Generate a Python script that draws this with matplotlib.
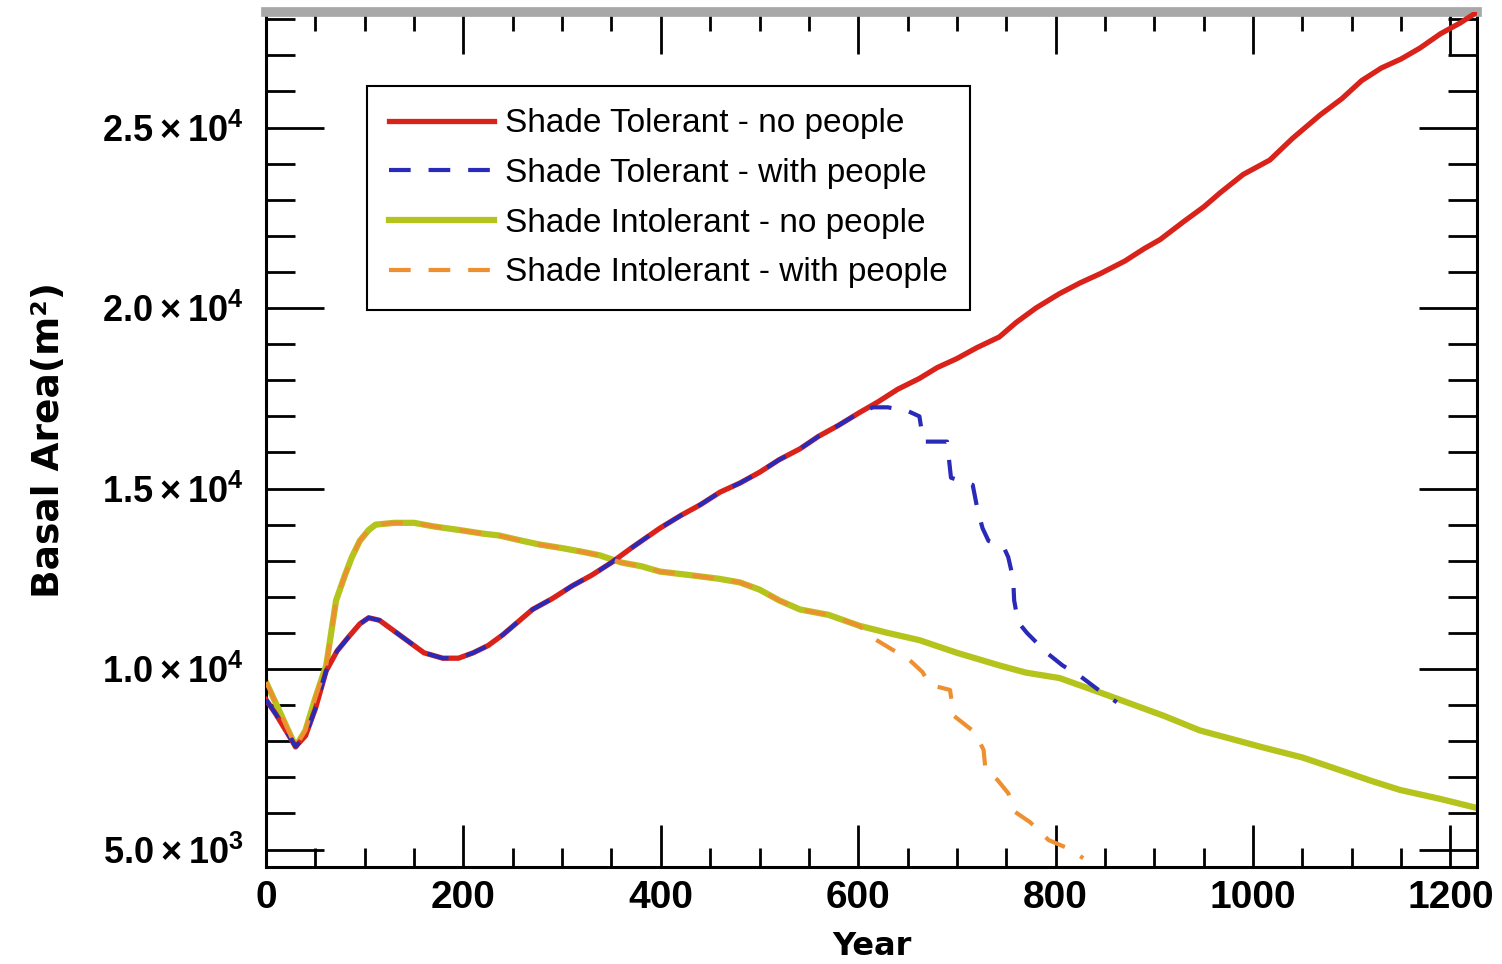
import numpy as np
import matplotlib
matplotlib.use("Agg")
import matplotlib.pyplot as plt
from matplotlib.ticker import MultipleLocator, FuncFormatter

# datos (año, area basal en m2)
anios_tol = [0, 10, 20, 30, 40, 50, 61, 72, 84, 95, 104, 115, 130, 145, 160, 179,
             195, 210, 225, 240, 255, 270, 290, 310, 330, 350, 370, 399, 420, 440,
             460, 480, 500, 520, 541, 560, 580, 601, 620, 640, 662, 680, 700, 720,
             743, 760, 780, 804, 825, 845, 870, 890, 906, 930, 950, 967, 990, 1017,
             1040, 1068, 1090, 1110, 1130, 1150, 1169, 1190, 1210, 1227]
tol_sin_gente = [9150, 8750, 8300, 7850, 8150, 8900, 9950, 10500, 10900, 11250, 11420,
                 11350, 11050, 10750, 10450, 10300, 10300, 10450, 10650, 10950, 11300,
                 11650, 11950, 12300, 12600, 12950, 13350, 13900, 14250, 14550, 14900,
                 15150, 15450, 15800, 16100, 16450, 16750, 17100, 17400, 17750, 18050,
                 18350, 18600, 18900, 19200, 19600, 20000, 20400, 20700, 20950, 21300,
                 21650, 21900, 22400, 22800, 23200, 23700, 24100, 24700, 25350, 25800,
                 26300, 26650, 26900, 27200, 27600, 27900, 28200]

# tolerantes con gente: igual hasta el año 600, luego cae
anios_tol_gente = [615, 630, 650, 662, 666, 690, 694, 716, 721, 726, 732, 747, 752,
                   757, 758, 762, 771, 791, 807, 825, 842, 862]
tol_gente = [17250, 17250, 17150, 17000, 16300, 16300, 15300, 15100, 14400, 13900,
             13550, 13400, 13100, 12500, 11900, 11300, 11000, 10450, 10100, 9800,
             9450, 9080]

anios_into = [0, 10, 20, 30, 40, 50, 61, 66, 71, 80, 87, 95, 104, 111, 130, 150, 170,
              196, 220, 236, 260, 277, 300, 320, 338, 360, 380, 399, 430, 459, 480,
              500, 520, 541, 570, 601, 630, 662, 700, 743, 770, 804, 845, 880, 910,
              946, 980, 1007, 1050, 1088, 1120, 1149, 1190, 1227]
into_sin_gente = [9640, 9050, 8450, 7850, 8300, 9200, 10100, 11000, 11900, 12600,
                  13100, 13550, 13850, 14000, 14050, 14050, 13950, 13850, 13750, 13700,
                  13550, 13450, 13350, 13250, 13150, 12950, 12850, 12700, 12600, 12500,
                  12400, 12200, 11900, 11650, 11500, 11200, 11000, 10800, 10450, 10100,
                  9900, 9750, 9350, 9000, 8700, 8300, 8050, 7850, 7550, 7200, 6900,
                  6650, 6400, 6150]

# intolerantes con gente: igual hasta el año 600
anios_into_gente = [615, 635, 650, 665, 673, 693, 697, 718, 727, 729, 741, 752, 759,
                    774, 793, 812, 828]
into_gente = [10860, 10530, 10300, 9920, 9560, 9420, 8700, 8250, 7760, 7200, 6930,
              6560, 6040, 5760, 5260, 5040, 4760]

etiquetas = ["Shade Tolerant - no people", "Shade Tolerant - with people",
             "Shade Intolerant - no people", "Shade Intolerant - with people"]

# armamos las series completas con gente
n_tol = anios_tol.index(601) + 1
x_tol_g = anios_tol[:n_tol] + anios_tol_gente
y_tol_g = tol_sin_gente[:n_tol] + tol_gente
n_into = anios_into.index(601) + 1
x_into_g = anios_into[:n_into] + anios_into_gente
y_into_g = into_sin_gente[:n_into] + into_gente

plt.rcParams['font.family'] = ['Liberation Sans', 'DejaVu Sans']
plt.rcParams['mathtext.fontset'] = 'custom'
plt.rcParams['mathtext.rm'] = 'Liberation Sans'
plt.rcParams['mathtext.bf'] = 'Liberation Sans:bold'

fig = plt.figure(figsize=(15.02, 9.64), dpi=100)
ax = fig.add_axes([0.1771, 0.1006, 0.8063, 0.8869])

rojo = '#d8221a'
azul = '#2a2ab8'
amarillo = '#b4c41c'
naranja = '#ee9030'

ax.plot(anios_into, into_sin_gente, color=amarillo, lw=4.5, label=etiquetas[2], zorder=2)
ax.plot(anios_tol, tol_sin_gente, color=rojo, lw=3.8, label=etiquetas[0], zorder=3)
ax.plot(x_tol_g, y_tol_g, color=azul, lw=3, dashes=(5.2, 4.3), label=etiquetas[1], zorder=4)
ax.plot(x_into_g, y_into_g, color=naranja, lw=3, dashes=(5.2, 4.3), label=etiquetas[3], zorder=4)

ax.set_xlim(0, 1227)
ax.set_ylim(4515, 28200)

# ticks hacia adentro en los cuatro lados
ax.xaxis.set_major_locator(MultipleLocator(200))
ax.xaxis.set_minor_locator(MultipleLocator(50))
ax.yaxis.set_major_locator(MultipleLocator(5000))
ax.yaxis.set_minor_locator(MultipleLocator(1000))
ax.tick_params(axis='both', which='both', direction='in', top=True, right=True,
               width=2, color='black')
ax.tick_params(axis='x', which='major', length=30, pad=9, labelsize=28)
ax.tick_params(axis='x', which='minor', length=14)
ax.tick_params(axis='y', which='major', length=42, pad=16, labelsize=26)
ax.tick_params(axis='y', which='minor', length=21)

for lab in ax.get_xticklabels():
    lab.set_fontweight('bold')


def fmt_y(v, pos):
    if v <= 0:
        return ''
    e = int(np.floor(np.log10(v)))
    m = v / 10 ** e
    return r'$\mathbf{%.1f\times10^{%d}}$' % (m, e)


ax.yaxis.set_major_formatter(FuncFormatter(fmt_y))

for lado in ['left', 'right', 'bottom']:
    ax.spines[lado].set_linewidth(2.2)
ax.spines['top'].set_linewidth(7)
ax.spines['top'].set_color('#a8a8a8')

ax.set_xlabel('Year', fontsize=23, fontweight='bold', family='DejaVu Sans')
ax.xaxis.set_label_coords(0.5, -0.0935)
ax.xaxis.label.set_verticalalignment('center')
ax.set_ylabel('Basal Area(m²)', fontsize=27, fontweight='bold', family='DejaVu Sans')
ax.yaxis.set_label_coords(-0.179, 0.5)
ax.yaxis.label.set_verticalalignment('center')

# orden de la leyenda como en la figura original
h, l = ax.get_legend_handles_labels()
orden = [l.index(e) for e in etiquetas]
leg = ax.legend([h[i] for i in orden], [l[i] for i in orden], loc='upper left',
                bbox_to_anchor=(0.0835, 0.913), borderaxespad=0, fontsize=24,
                frameon=True, fancybox=False, edgecolor='black', framealpha=1,
                handlelength=3.15, handletextpad=0.33, labelspacing=0.56,
                borderpad=0.66)
leg.get_frame().set_linewidth(1.5)

fig.savefig('out.png', dpi=100)
